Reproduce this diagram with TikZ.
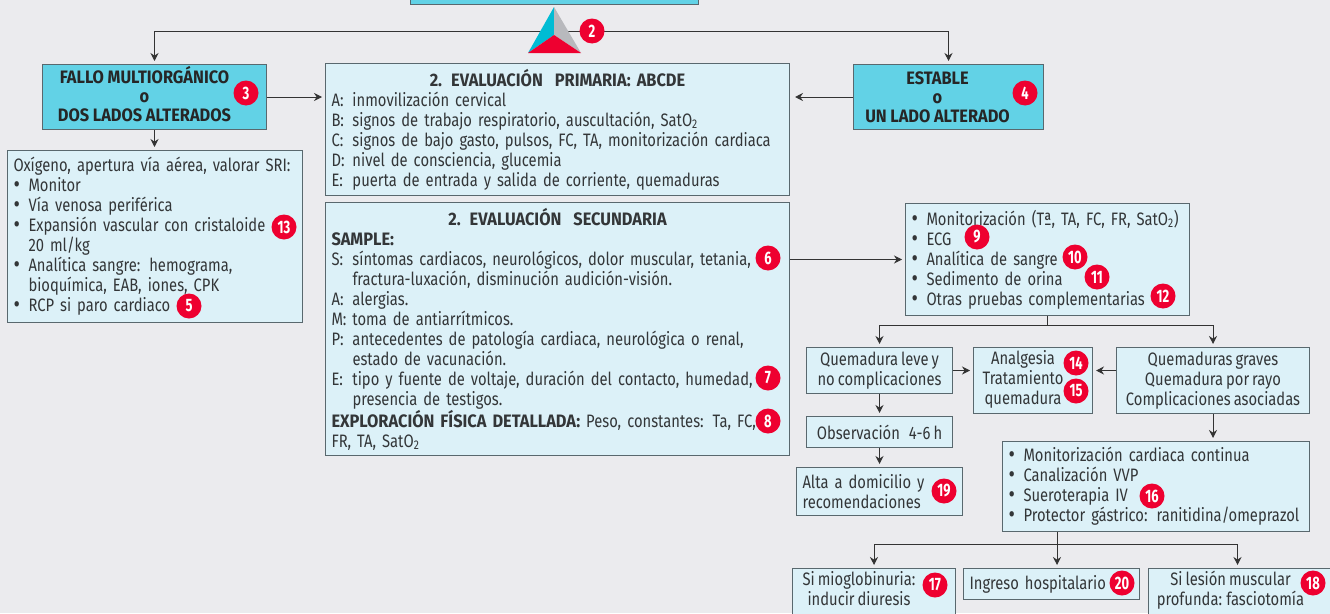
\documentclass[tikz,border=0pt]{standalone}
\usepackage{fontspec}
\setmainfont[FakeStretch=0.82,BoldFeatures={FakeStretch=0.91}]{Fira Sans}
\newfontfamily\badgefont[FakeStretch=0.72]{Fira Sans}
\usetikzlibrary{arrows.meta,calc}
\definecolor{pagegray}{HTML}{EBEBEE}
\definecolor{paleblue}{HTML}{DCF1F8}
\definecolor{tealbox}{HTML}{62D2E6}
\definecolor{edgegray}{HTML}{59686E}
\definecolor{inkgray}{HTML}{333638}
\definecolor{badgered}{HTML}{EE0030}
\definecolor{tricyan}{HTML}{00BCD4}
\definecolor{trigray}{HTML}{B8B9BD}
\newcommand{\itm}[2]{\mbox{\makebox[21pt][l]{#1}#2}}
\newcommand{\bul}[1]{\mbox{\makebox[15pt][l]{\smash{\raisebox{-1pt}{\fontsize{24}{20}\selectfont\textbullet}}}#1}}
\newcommand{\hng}[1]{\hspace*{15pt}#1}
\newcommand{\padrows}[2]{\begin{tabular}{@{}c@{\hspace{#1}}}#2\end{tabular}}
\newcommand{\panelfont}{\fontsize{18}{20}\selectfont\spaceskip 3pt\relax}
\newcommand{\alarmfont}{\fontsize{18}{19}\selectfont\bfseries\spaceskip 3.6pt\relax}
\tikzset{
    panel/.style = {rectangle,
                    anchor=north west,
                    fill=paleblue,
                    draw=edgegray,
                    text=inkgray,
                    line width=1pt,
                    inner xsep=6pt,
                    inner ysep=0pt,
                    align=left,
                    font=\panelfont},
    centered/.style = {panel,
                    align=center},
    alarm/.style =  {centered,
                    fill=tealbox,
                    text=black!85,
                    font=\alarmfont},
    badge/.style =  {circle,
                    fill=badgered,
                    text=white,
                    inner sep=0pt,
                    minimum size=25pt,
                    font=\fontsize{18}{18}\selectfont\badgefont\bfseries},
    link/.style =   {draw=black!80,
                    line width=1pt},
    flow/.style =   {link,
                    -{Stealth[length=8pt,width=8pt]},
                    shorten >=3pt}}
\begin{document}
\begin{tikzpicture}[x=1pt,y=-1pt]
    \useasboundingbox[fill=pagegray] (0,0) rectangle (1330,613);
    \clip (0,0) rectangle (1330,613);

    \node[alarm, minimum width=288pt, minimum height=44pt]  (top) at (410,-40) {};
    \node[alarm, minimum width=224pt, minimum height=65pt]  (fallo) at (42,64)
        {\padrows{20pt}{FALLO MULTIORGÁNICO\\o\\DOS LADOS ALTERADOS}};
    \node[alarm, minimum width=190pt, minimum height=65pt]  (estable) at (853,64)
        {\padrows{22pt}{\rule{0pt}{18.5pt}ESTABLE\\o\\UN LADO ALTERADO}};
    \node[panel, minimum width=295pt, minimum height=172pt, text width=283pt] (sri) at (7,150)
        {\mbox{Oxígeno, apertura vía aérea, valorar SRI:}\\
         \bul{Monitor}\\
         \bul{Vía venosa periférica}\\
         \bul{Expansión vascular con cristaloide}\\
         \hng{20 ml/kg}\\
         \bul{Analítica sangre: hemograma,}\\
         \hng{bioquímica, EAB, iones, CPK}\\
         \bul{RCP si paro cardiaco}};
    \node[panel, minimum width=464pt, minimum height=132pt, text width=452pt] (prim) at (325,63)
        {\makebox[\hsize][c]{\bfseries 2. EVALUACIÓN\ \ PRIMARIA: ABCDE}\\
         \itm{A:}{inmovilización cervical}\\
         \itm{B:}{signos de trabajo respiratorio, auscultación, SatO\textsubscript{2}}\\
         \itm{C:}{signos de bajo gasto, pulsos, FC, TA, monitorización cardiaca}\\
         \itm{D:}{nivel de consciencia, glucemia}\\
         \itm{E:}{puerta de entrada y salida de corriente, quemaduras}};
    \node[panel, minimum width=464pt, minimum height=253pt, text width=452pt] (sec) at (325,202)
        {\makebox[\hsize][c]{\bfseries 2. EVALUACIÓN\ \ SECUNDARIA}\\
         \textbf{SAMPLE:}\\
         \itm{S:}{síntomas cardiacos, neurológicos, dolor muscular, tetania,}\\
         \itm{}{fractura-luxación, disminución audición-visión.}\\
         \itm{A:}{alergias.}\\
         \itm{M:}{toma de antiarrítmicos.}\\
         \itm{P:}{antecedentes de patología cardiaca, neurológica o renal,}\\
         \itm{}{estado de vacunación.}\\
         \itm{E:}{tipo y fuente de voltaje, duración del contacto, humedad,}\\
         \itm{}{presencia de testigos.}\\
         \mbox{\textbf{EXPLORACIÓN FÍSICA DETALLADA:} Peso, constantes: Ta, FC,}\\
         FR, TA, SatO\textsubscript{2}};
    \node[panel, minimum width=284pt, minimum height=112pt, text width=272pt] (monit) at (905,203)
        {\bul{Monitorización (Tª, TA, FC, FR, SatO\textsubscript{2})}\\
         \bul{ECG}\\
         \bul{Analítica de sangre}\\
         \bul{Sedimento de orina}\\
         \bul{Otras pruebas complementarias}};
    \node[centered, minimum width=146pt, minimum height=46pt] (leve) at (806,347)
        {Quemadura leve y\\no complicaciones};
    \node[centered, minimum width=119pt, minimum height=66pt] (analg) at (973,347)
        {\padrows{20pt}{Analgesia\\Tratamiento\\quemadura}};
    \node[centered, minimum width=193pt, minimum height=66pt] (graves) at (1116,347)
        {Quemaduras graves\\Quemadura por rayo\\Complicaciones asociadas};
    \node[centered, minimum width=146pt, minimum height=31pt] (obs) at (806,416)
        {Observación\ \ \ 4-6 h};
    \node[panel, minimum width=166pt, minimum height=48pt, text width=154pt] (alta) at (796,467)
        {Alta a domicilio y\\recomendaciones};
    \node[panel, minimum width=307pt, minimum height=90pt, text width=295pt] (cuidados) at (1002,441)
        {\bul{Monitorización cardiaca continua}\\
         \bul{Canalización VVP}\\
         \bul{Sueroterapia IV}\\
         \bul{Protector gástrico: ranitidina/omeprazol}};
    \node[centered, minimum width=163pt, minimum height=46pt] (mio) at (792,568)
        {\padrows{30pt}{Si mioglobinuria:\\inducir diuresis\rule[-7pt]{0pt}{7pt}}};
    \node[panel, minimum width=176pt, minimum height=31pt, text width=164pt] (ingreso) at (963,568)
        {Ingreso hospitalario};
    \node[centered, minimum width=190pt, minimum height=46pt] (lesion) at (1148,568)
        {\padrows{26pt}{Si lesión muscular\\profunda: fasciotomía\rule[-7pt]{0pt}{7pt}}};

    \coordinate (tri) at (554,31);
    \coordinate (split) at (monit.south |- 0,325);
    \coordinate (fork) at (1057,544);

    \draw[flow] (tri) -| (fallo.north);
    \draw[flow] (tri) -| (estable.north);
    \draw[flow] (fallo.east) -- (fallo.east -| prim.west);
    \draw[flow,shorten >=5pt] (estable.west) -- (estable.west -| prim.east);
    \draw[flow] (fallo.south) -- (fallo.south |- sri.north);
    \draw[flow] (monit.west -| sec.east) -- (monit.west);
    \draw[link] (monit.south) -- (split);
    \draw[flow] (split) -| (leve.north);
    \draw[flow] (split) -| (graves.north);
    \draw[flow] (leve.east) -- (leve.east -| analg.west);
    \draw[flow] (leve.east -| graves.west) -- (leve.east -| analg.east);
    \draw[flow] (leve.south) -- (obs.north);
    \draw[flow] (obs.south) -- (obs.south |- alta.north);
    \draw[flow] (graves.south) -- (graves.south |- cuidados.north);
    \draw[flow] (fork |- cuidados.south) -- (fork |- ingreso.north);
    \draw[flow] (fork) -| (mio.north);
    \draw[flow] (fork) -| ($(lesion.north)+(-6,0)$);

    \fill[tricyan] (554,7) -- (528,53) -- (tri |- 0,35) -- cycle;
    \fill[trigray] (554,7) -- (581,53) -- (tri |- 0,35) -- cycle;
    \fill[badgered] (528,53) -- (581,53) -- (tri |- 0,35) -- cycle;

    \foreach \name/\xpos/\ypos in {2/592/31, 3/246/93, 4/1025/93, 13/284/227, 5/189/306,
        6/768/258, 7/768/378, 8/768/421, 9/977/237, 10/1075/257, 11/1097/277, 12/1163/296,
        14/1076/363, 15/1076/391, 16/1152/496, 17/935/585, 20/1122/583, 18/1313/583, 19/944/491}
        \node[badge] (b\name) at (\xpos,\ypos) {\name};
\end{tikzpicture}
\end{document}
